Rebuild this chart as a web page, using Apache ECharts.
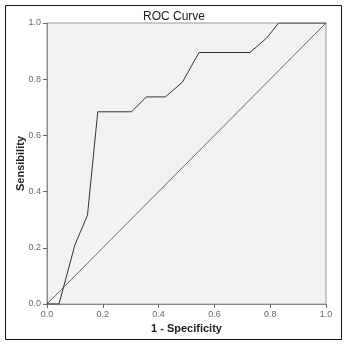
<!DOCTYPE html>
<html><head><meta charset="utf-8">
<script src="https://cdn.jsdelivr.net/npm/echarts@6/dist/echarts.min.js"></script>
<style>html,body{margin:0;padding:0;background:#fff}#c{width:347px;height:345px}</style>
</head><body><div id="c"></div>
<script>
var rocX = [0, 0.043, 0.1, 0.145, 0.182, 0.303, 0.356, 0.424, 0.485, 0.545, 0.727, 0.788, 0.83, 1.0];
var rocY = [0, 0, 0.21, 0.316, 0.684, 0.684, 0.737, 0.737, 0.789, 0.895, 0.895, 0.947, 1.0, 1.0];
var refX = [0, 1];
var refY = [0, 1];
var tickLabels = ['0.0', '0.2', '0.4', '0.6', '0.8', '1.0'];

var chart = echarts.init(document.getElementById('c'));
function pairs(xs, ys){ return xs.map(function(x,i){return [x, ys[i]];}); }
var axisCommon = {
  type: 'value', min: 0, max: 1, interval: 0.2,
  axisLine: {show: true, lineStyle: {color: '#888', width: 1}},
  axisTick: {show: true, length: 4, lineStyle: {color: '#666'}},
  axisLabel: {color: '#666', fontSize: 9, margin: 6, fontFamily: 'Liberation Sans, Arial', formatter: function(v){ return tickLabels[Math.round(v*5)]; }},
  splitLine: {show: false},
  nameMoveOverlap: false,
  nameTextStyle: {color: '#222', fontSize: 11, fontWeight: 'bold', fontFamily: 'Liberation Sans, Arial'}
};
chart.setOption({
  animation: false,
  title: {text: 'ROC Curve', left: 169, top: 6, textAlign: 'center',
    textStyle: {fontSize: 12, fontWeight: 'normal', color: '#222', fontFamily: 'Liberation Sans, Arial'}},
  grid: {left: 47, top: 23, right: 21, bottom: 41, show: true, backgroundColor: '#f2f2f2', borderColor: '#999', borderWidth: 1},
  xAxis: Object.assign({}, axisCommon, {name: '1 - Specificity', nameLocation: 'middle', nameGap: 19}),
  yAxis: Object.assign({}, axisCommon, {name: 'Sensibility', nameLocation: 'middle', nameGap: 21}),
  graphic: [{type: 'rect', shape: {x: 5.5, y: 5.5, width: 336, height: 334}, style: {fill: 'none', stroke: '#111', lineWidth: 1}, silent: true}],
  series: [
    {type: 'line', data: pairs(refX, refY), symbol: 'none', lineStyle: {color: '#444', width: 0.8}},
    {type: 'line', data: pairs(rocX, rocY), symbol: 'none', lineStyle: {color: '#333', width: 1}}
  ]
});
</script></body></html>
